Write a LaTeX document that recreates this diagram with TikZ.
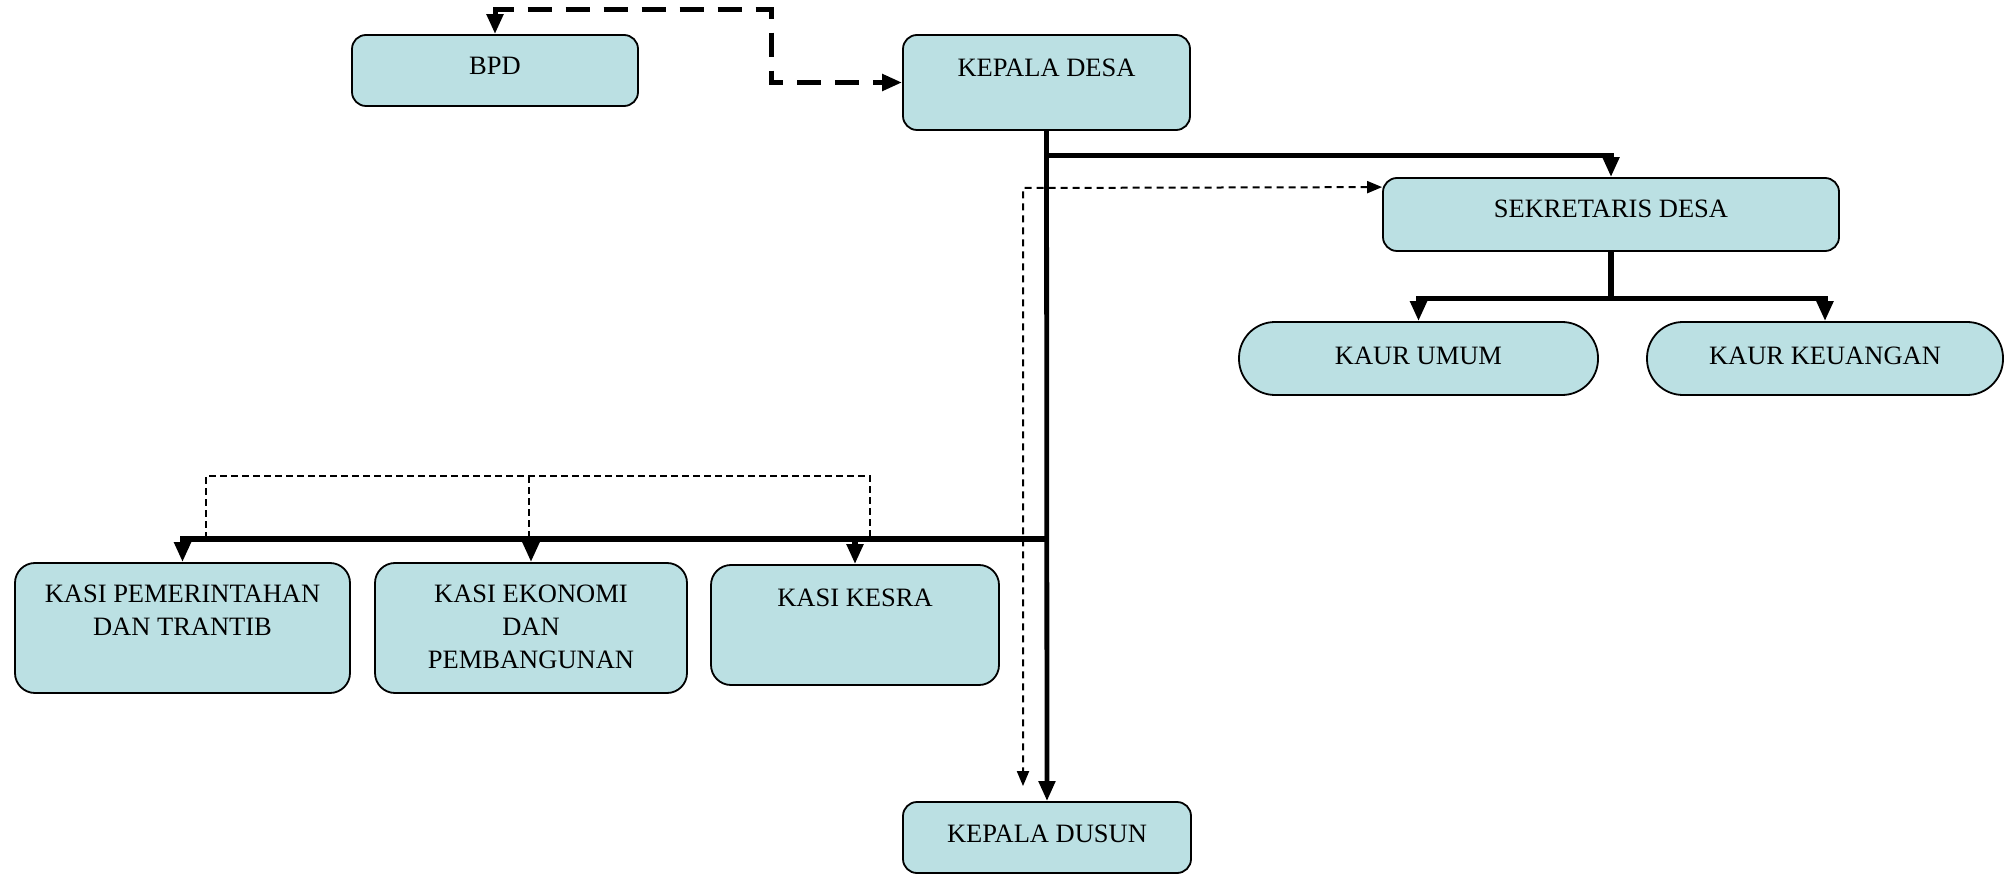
\documentclass[tikz,border=0pt]{standalone}
\usepackage{fontspec}
\setmainfont{Liberation Serif}
\usetikzlibrary{arrows.meta,calc}
\definecolor{boxfill}{RGB}{187,224,227}
\begin{document}
\begin{tikzpicture}[x=1pt,y=-1pt,
  box/.style={draw=black, line width=1.8pt, fill=boxfill, rounded corners=14pt, inner sep=0pt},
  pill/.style={box, rounded corners=36pt},
  txt/.style={inner sep=0pt, anchor=north, align=center, font=\fontsize{26.5}{33}\selectfont},
  trunk/.style={line width=4.8pt},
  branch/.style={line width=5.2pt},
  tip/.style={-{Triangle[length=20pt,width=16pt]}},
  tipboth/.style={{Triangle[length=20pt,width=16pt]}-{Triangle[length=20pt,width=16pt]}},
  smalltips/.style={{Triangle[length=15pt,width=12pt]}-{Triangle[length=15pt,width=12pt]}},
  thickdash/.style={line width=5pt, dash pattern=on 24pt off 14pt},
  dotline/.style={line width=2pt, dash pattern=on 7pt off 5pt},
  thindash/.style={line width=1.6pt, dash pattern=on 7pt off 4pt}]
\useasboundingbox (0,0) rectangle (2005,874);

% boxes
\node[box, minimum width=286pt, minimum height=71pt] (bpd) at (495,70.5) {};
\node[box, minimum width=287pt, minimum height=95pt] (kd) at (1046.5,82.5) {};
\node[box, minimum width=456pt, minimum height=73pt] (sek) at (1611,214.5) {};
\node[pill, minimum width=359pt, minimum height=73pt] (kaurumum) at (1418.5,358.5) {};
\node[pill, minimum width=356pt, minimum height=73pt] (kaurkeu) at (1825,358.5) {};
\node[box, rounded corners=20pt, minimum width=335pt, minimum height=130pt] (kasipem) at (182.5,628) {};
\node[box, rounded corners=20pt, minimum width=312pt, minimum height=130pt] (kasieko) at (531,628) {};
\node[box, rounded corners=20pt, minimum width=288pt, minimum height=120pt] (kesra) at (855,625) {};
\node[box, minimum width=288pt, minimum height=71pt] (kdusun) at (1047,837.5) {};

% texts
\node[txt] (tbpd) at ([yshift=-23pt]bpd.north) {BPD};
\node[txt] (tkd) at ([yshift=-25pt]kd.north) {KEPALA DESA};
\node[txt] (tsek) at ([yshift=-23pt]sek.north) {SEKRETARIS DESA};
\node[txt] (tku) at ([yshift=-26pt]kaurumum.north) {KAUR UMUM};
\node[txt] (tkk) at ([yshift=-26pt]kaurkeu.north) {KAUR KEUANGAN};
\node[txt] (tpem) at ([yshift=-23pt]kasipem.north) {KASI PEMERINTAHAN\\DAN TRANTIB};
\node[txt] (teko) at ([yshift=-23pt]kasieko.north) {KASI EKONOMI\\DAN\\PEMBANGUNAN};
\node[txt] (tkes) at ([yshift=-24.5pt]kesra.north) {KASI KESRA};
\node[txt] (tdus) at ([yshift=-23.5pt]kdusun.north) {KEPALA DUSUN};

% junction coordinates
\coordinate (jsek) at ($(kd.south)+(0,25)$);
\coordinate (jkasi) at ($(kd.south)+(0,408)$);
\coordinate (jkaur) at ($(sek.south)+(0,47)$);
\coordinate (bk) at (771,10);
\coordinate (dtop) at (1023,188);
\coordinate (dend) at ($(kdusun.north)+(-24,-15)$);
\coordinate (dk1) at (206,476);
\coordinate (dk2) at (529,476);
\coordinate (dk3) at (870,476);

% solid connectors
\draw[trunk, tip] (kd.south) -- (kdusun.north);
\draw[branch, tip] (jsek) -| (sek.north);
\draw[branch, tip] (jkasi) -| (kasipem.north);
\draw[branch, tip] (jkasi -| kasieko.north) -- (kasieko.north);
\draw[branch, tip] (jkasi -| kesra.north) -- (kesra.north);
\draw[branch] (sek.south) -- (jkaur);
\draw[branch, tip] (jkaur) -| (kaurumum.north);
\draw[branch, tip] (jkaur) -| (kaurkeu.north);

% dashed connectors
\draw[thickdash, tipboth] (bpd.north) |- (bk) |- (kd.west);
\draw[dotline, smalltips] ([yshift=-10pt]sek.north west) -- (dtop) -- (dend);
\draw[thindash] (dk1 |- jkasi) -- (dk1) -- (dk3) -- (dk3 |- jkasi);
\draw[thindash] (dk2) -- (dk2 |- jkasi);
\end{tikzpicture}
\end{document}
